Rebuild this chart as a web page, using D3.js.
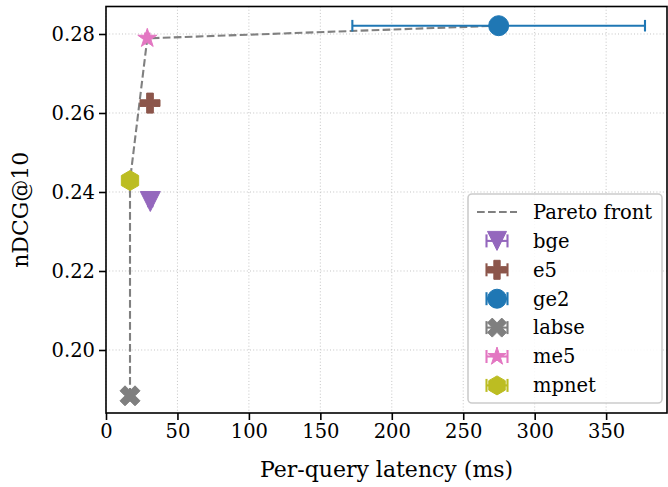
<!DOCTYPE html>
<html>
<head>
<meta charset="utf-8">
<script src="https://cdn.jsdelivr.net/npm/d3@7"></script>
<style>
  html, body { margin: 0; padding: 0; background: #fff; }
  svg { display: block; }
  svg text { font-family: "DejaVu Serif", serif; }
</style>
</head>
<body>
<svg id="chart" width="668" height="487"></svg>
<script>
// ---- data ----
const models = ["bge", "e5", "ge2", "labse", "me5", "mpnet"];
const latency = [31.0, 30.8, 274.8, 16.8, 28.9, 16.8];
const latencyErr = [1.5, 1.5, 102.4, 1.0, 1.5, 1.0];
const ndcg = [0.2376, 0.2625, 0.2821, 0.1884, 0.2789, 0.2429];
const colors = ["#9467bd", "#8c564b", "#1f77b4", "#7f7f7f", "#e377c2", "#bcbd22"];
const markers = ["v", "P", "o", "X", "*", "h"];
const paretoModels = ["labse", "mpnet", "me5", "ge2"];
const xTicks = [0, 50, 100, 150, 200, 250, 300, 350];
const yTicks = [0.20, 0.22, 0.24, 0.26, 0.28];
const xLabel = "Per-query latency (ms)";
const yLabel = "nDCG@10";
const paretoLabel = "Pareto front";

// ---- layout ----
const L = 106, R = 667, T = 6.5, B = 413;
const svg = d3.select("#chart");
const x = d3.scaleLinear().domain([0, 392.6]).range([L, R]);
const y = d3.scaleLinear().domain([0.18405, 0.28696]).range([B, T]);
const MS = 20;

function markerPath(m, s) {
  const h = s / 2;
  let pts;
  if (m === "o") {
    return d3.symbol().type(d3.symbolCircle).size(Math.PI * h * h)();
  } else if (m === "v") {
    pts = [[0, h], [-h, -h], [h, -h]];
  } else if (m === "P") {
    pts = [[-1,-3],[1,-3],[1,-1],[3,-1],[3,1],[1,1],[1,3],[-1,3],[-1,1],[-3,1],[-3,-1],[-1,-1]].map(p => [p[0]*s/6, p[1]*s/6]);
  } else if (m === "X") {
    pts = [[-1,-2],[0,-1],[1,-2],[2,-1],[1,0],[2,1],[1,2],[0,1],[-1,2],[-2,1],[-1,0],[-2,-1]].map(p => [p[0]*s/4, p[1]*s/4]);
  } else if (m === "h") {
    pts = d3.range(6).map(i => { const a = -Math.PI/2 + i*Math.PI/3; return [h*Math.cos(a), h*Math.sin(a)]; });
  } else if (m === "*") {
    const ri = h * 0.381966;
    pts = d3.range(10).map(i => { const a = -Math.PI/2 + i*Math.PI/5; const r = i % 2 ? ri : h; return [r*Math.cos(a), r*Math.sin(a)]; });
  }
  return "M" + pts.map(p => p[0].toFixed(2) + "," + p[1].toFixed(2)).join("L") + "Z";
}

// grid
const grid = svg.append("g");
grid.selectAll(".gx").data(xTicks).enter().append("line")
  .attr("x1", d => x(d)).attr("x2", d => x(d)).attr("y1", T).attr("y2", B)
  .attr("stroke", "#c4c4c4").attr("stroke-width", 1).attr("stroke-dasharray", "1,2.2");
grid.selectAll(".gy").data(yTicks).enter().append("line")
  .attr("y1", d => y(d)).attr("y2", d => y(d)).attr("x1", L).attr("x2", R)
  .attr("stroke", "#c4c4c4").attr("stroke-width", 1).attr("stroke-dasharray", "1,2.2");

// axes
const xAxis = d3.axisBottom(x).tickValues(xTicks).tickFormat(d3.format("d")).tickSize(7).tickPadding(4);
const yAxis = d3.axisLeft(y).tickValues(yTicks).tickFormat(d3.format(".2f")).tickSize(7).tickPadding(4);
const gx = svg.append("g").attr("transform", `translate(0,${B})`).call(xAxis);
const gy = svg.append("g").attr("transform", `translate(${L},0)`).call(yAxis);
[gx, gy].forEach(g => {
  g.attr("font-family", null).attr("font-size", null);
  g.select(".domain").remove();
  g.selectAll("line").attr("stroke", "#000").attr("stroke-width", 1.6);
  g.selectAll("text").style("font-family", "'DejaVu Serif', serif").style("font-size", "19.5px").attr("fill", "#000");
});

// pareto front
const pIdx = paretoModels.map(m => models.indexOf(m));
svg.append("path")
  .datum(pIdx)
  .attr("d", d3.line().x(i => x(latency[i])).y(i => y(ndcg[i])))
  .attr("fill", "none").attr("stroke", "#808080").attr("stroke-width", 2.1)
  .attr("stroke-dasharray", "7.7,3.3");

// error bars
const eb = svg.append("g");
models.forEach((m, i) => {
  const cy = y(ndcg[i]);
  const x0 = x(latency[i] - latencyErr[i]), x1 = x(latency[i] + latencyErr[i]);
  eb.append("line").attr("x1", x0).attr("x2", x1).attr("y1", cy).attr("y2", cy)
    .attr("stroke", colors[i]).attr("stroke-width", 2.1);
  [x0, x1].forEach(cx => eb.append("line").attr("x1", cx).attr("x2", cx).attr("y1", cy - 5.8).attr("y2", cy + 5.8)
    .attr("stroke", colors[i]).attr("stroke-width", 2.1));
});

// markers
models.forEach((m, i) => {
  svg.append("path").attr("d", markerPath(markers[i], MS))
    .attr("transform", `translate(${x(latency[i])},${y(ndcg[i])})`)
    .attr("fill", colors[i]).attr("stroke", colors[i]).attr("stroke-width", 1);
});

// spines
svg.append("rect").attr("x", L).attr("y", T).attr("width", R - L).attr("height", B - T)
  .attr("fill", "none").attr("stroke", "#000").attr("stroke-width", 1.6);

// axis labels
svg.append("text").attr("x", (L + R) / 2).attr("y", 477).attr("text-anchor", "middle")
  .style("font-size", "22px").text(xLabel);
svg.append("text").attr("transform", `translate(28,${(T + B) / 2}) rotate(-90)`).attr("text-anchor", "middle")
  .style("font-size", "22px").text(yLabel);

// legend
const lg = svg.append("g");
lg.append("rect").attr("x", 468).attr("y", 194).attr("width", 194).attr("height", 209).attr("rx", 4)
  .attr("fill", "#fff").attr("fill-opacity", 0.85).attr("stroke", "#cccccc").attr("stroke-width", 1.6);
const rowY = d => 212 + d * 28.9;
const hx = 497, tx = 533;
lg.append("line").attr("x1", 477).attr("x2", 517).attr("y1", rowY(0)).attr("y2", rowY(0))
  .attr("stroke", "#808080").attr("stroke-width", 2.1).attr("stroke-dasharray", "7.7,3.3");
lg.append("text").attr("x", tx).attr("y", rowY(0)).attr("dy", "0.35em").style("font-size", "19.5px").text(paretoLabel);
models.forEach((m, i) => {
  const cy = rowY(i + 1);
  [hx - 10.5, hx + 10.5].forEach(cx => lg.append("line").attr("x1", cx).attr("x2", cx)
    .attr("y1", cy - 6.5).attr("y2", cy + 6.5).attr("stroke", colors[i]).attr("stroke-width", 2.1));
  lg.append("line").attr("x1", hx - 10.5).attr("x2", hx + 10.5).attr("y1", cy).attr("y2", cy)
    .attr("stroke", colors[i]).attr("stroke-width", 2.1);
  lg.append("path").attr("d", markerPath(markers[i], 19)).attr("transform", `translate(${hx},${cy})`)
    .attr("fill", colors[i]).attr("stroke", colors[i]).attr("stroke-width", 1);
  lg.append("text").attr("x", tx).attr("y", cy).attr("dy", "0.35em").style("font-size", "19.5px").text(m);
});
</script>
</body>
</html>
